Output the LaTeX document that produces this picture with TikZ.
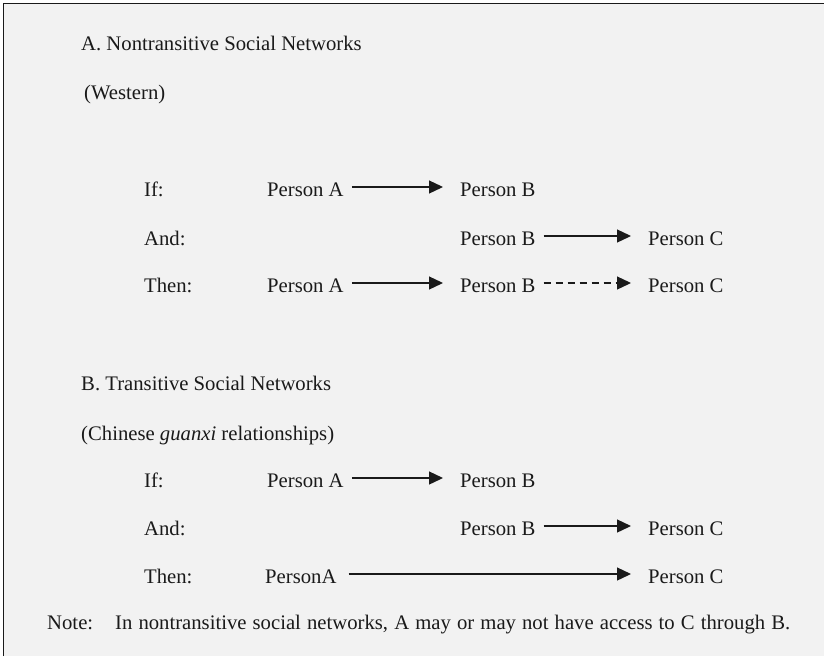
\documentclass[tikz,border=0pt]{standalone}
\usepackage{fontspec}
\setmainfont{Liberation Serif}
\usetikzlibrary{arrows.meta}
\definecolor{panel}{HTML}{F2F2F2}
\definecolor{ink}{HTML}{1A1A1A}

\begin{document}
\begin{tikzpicture}[x=1pt,y=-1pt,
  lbl/.style={anchor=base west, inner sep=0pt, text=ink,
              font=\fontsize{20.7}{24}\selectfont},
  link/.style={draw=ink, line width=1.3pt,
               -{Triangle[length=14pt,width=13pt]},
               shorten <=8pt, shorten >=17pt},
  weak/.style={link, dash pattern=on 7pt off 5pt}]

  % page and panel frame
  \useasboundingbox (0,0) rectangle (824,656);
  \fill[panel] (3,3) rectangle (824,656);
  \draw[ink, line width=1.8pt] (3.5,656) -- (3.5,3.5) -- (824,3.5);

  % section A: nontransitive networks
  \node[lbl] (ta) at (81,50) {A. Nontransitive Social Networks};
  \node[lbl] (tw) at (84,99) {(Western)};

  \node[lbl] (if1)   at (144,196) {If:};
  \node[lbl] (a1)    at (267,196) {Person A};
  \node[lbl] (b1)    at (460,196) {Person B};

  \node[lbl] (and1)  at (144,245) {And:};
  \node[lbl] (b2)    at (460,245) {Person B};
  \node[lbl] (c2)    at (648,245) {Person C};

  \node[lbl] (then1) at (144,292) {Then:};
  \node[lbl] (a3)    at (267,292) {Person A};
  \node[lbl] (b3)    at (460,292) {Person B};
  \node[lbl] (c3)    at (648,292) {Person C};

  \draw[link] ([yshift=9pt]a1.base east) -- ([yshift=9pt]b1.base west);
  \draw[link] ([yshift=9pt]b2.base east) -- ([yshift=9pt]c2.base west);
  \draw[link] ([yshift=9pt]a3.base east) -- ([yshift=9pt]b3.base west);
  \draw[weak] ([yshift=9pt]b3.base east) -- ([yshift=9pt]c3.base west);

  % section B: transitive networks
  \node[lbl] (tb) at (81,390) {B. Transitive Social Networks};
  \node[lbl] (tc) at (81,440) {(Chinese \textit{guanxi} relationships)};

  \node[lbl] (if2)   at (144,487) {If:};
  \node[lbl] (a4)    at (267,487) {Person A};
  \node[lbl] (b4)    at (460,487) {Person B};

  \node[lbl] (and2)  at (144,535) {And:};
  \node[lbl] (b5)    at (460,535) {Person B};
  \node[lbl] (c5)    at (648,535) {Person C};

  \node[lbl] (then2) at (144,583) {Then:};
  \node[lbl] (a6)    at (265,583) {PersonA};
  \node[lbl] (c6)    at (648,583) {Person C};

  \draw[link] ([yshift=9pt]a4.base east) -- ([yshift=9pt]b4.base west);
  \draw[link] ([yshift=9pt]b5.base east) -- ([yshift=9pt]c5.base west);
  \draw[link, shorten <=12pt] ([yshift=9pt]a6.base east) -- ([yshift=9pt]c6.base west);

  % footnote
  \node[lbl] (nl) at (47,629) {Note:};
  \node[lbl] (nt) at (115,629) {\makebox[675pt][s]{In nontransitive social networks, A may or may not have access to C through B.}};
\end{tikzpicture}
\end{document}
